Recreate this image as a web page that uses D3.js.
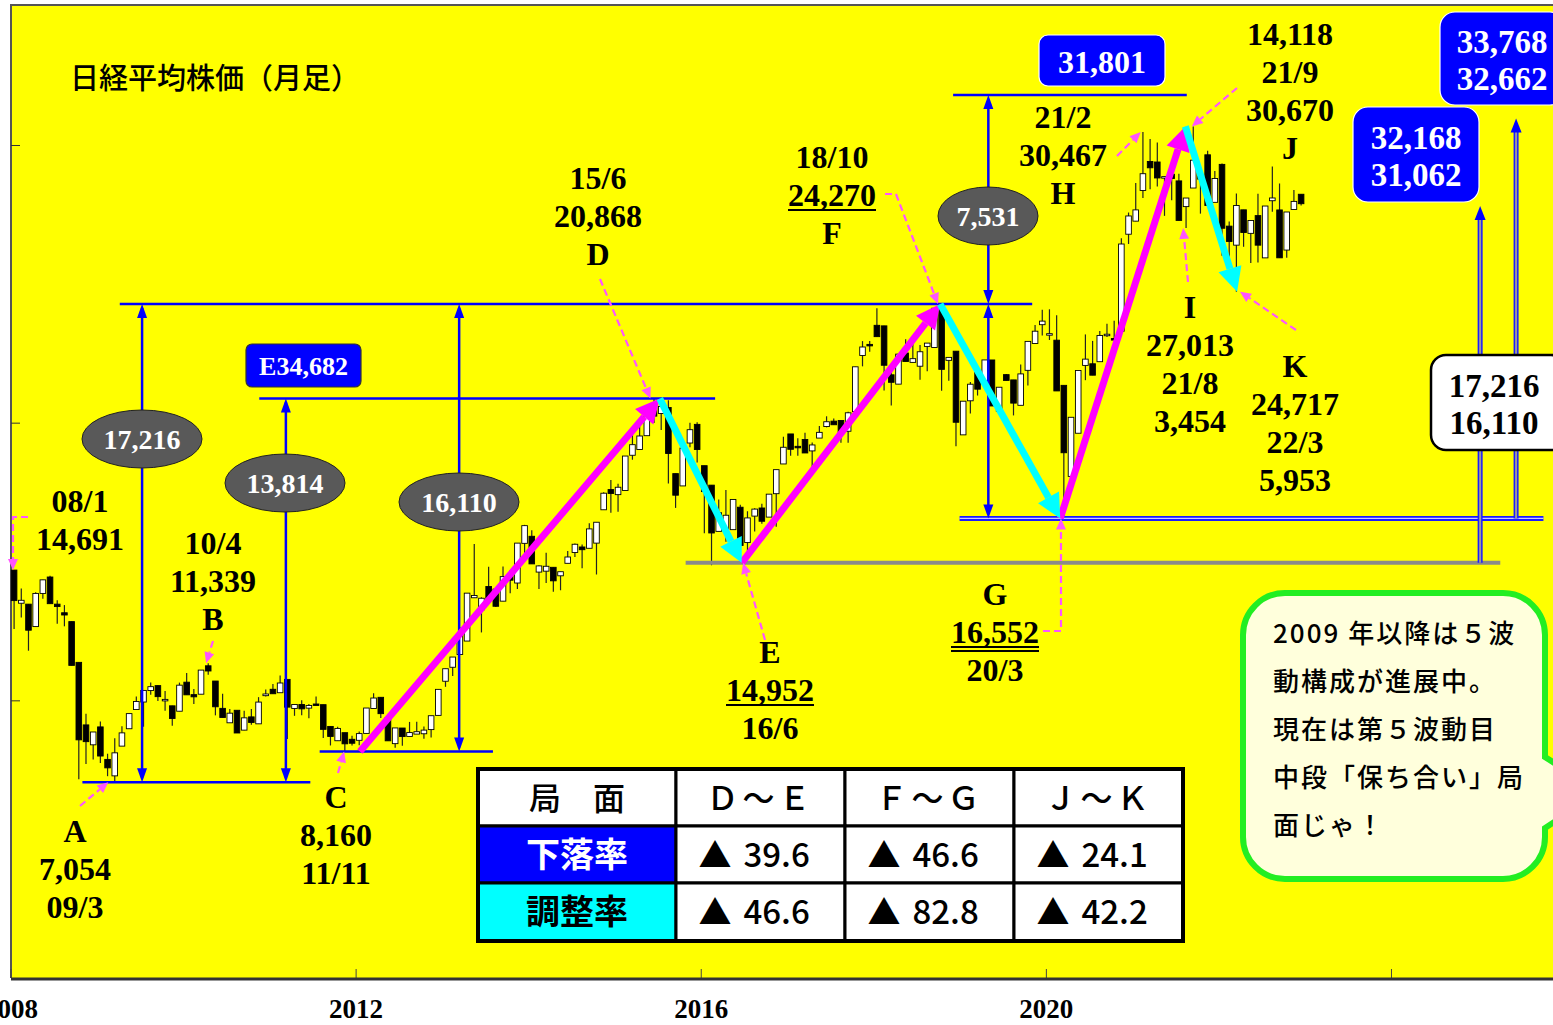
<!DOCTYPE html>
<html>
<head>
<meta charset="utf-8">
<script src="https://cdn.jsdelivr.net/npm/d3@7"></script>
<style>
body { margin: 0; background: #fff; }
svg { display: block; }
</style>
</head>
<body>
<svg id="chart" width="1553" height="1025"></svg>
<script>
// monthly candles, Jan 2008 .. Dec 2022 (closing-price basis)
const candleOpen = [
    14691, 13497, 13464, 12656, 13850, 14441, 13464, 13154, 12835, 11368, 9115, 8398,
    9043, 7873, 7280, 8351, 8977, 9668, 9939, 10352, 10530, 10009, 9802, 9608,
    10654, 10205, 10221, 11244, 10695, 9711, 9191, 9642, 8927, 9404, 9154, 10168,
    10398, 10274, 10754, 9708, 9850, 9719, 9868, 9844, 9060, 8545, 8835, 8597,
    8560, 8809, 9707, 10109, 9380, 8440, 9003, 8700, 8784, 8796, 8946, 9458,
    10688, 11191, 11652, 12135, 13694, 13261, 14099, 14005, 13572, 14484, 14225, 15654,
    15908, 14619, 14652, 14791, 14485, 14935, 15326, 15523, 15476, 15662, 16863, 17590,
    17408, 17558, 18826, 19034, 19531, 20569, 20329, 20548, 18165, 17722, 19267, 19939,
    18451, 17750, 16085, 16164, 16147, 16955, 15682, 16635, 16927, 16599, 17442, 18513,
    19594, 19148, 19393, 18983, 19445, 19860, 20055, 20080, 19691, 20400, 22420, 22819,
    23506, 23486, 21724, 21388, 22508, 22171, 22033, 22746, 22707, 24245, 22244, 22574,
    19561, 20788, 21822, 21509, 22258, 20410, 21730, 21540, 20625, 21885, 22850, 23529,
    23204, 22971, 21344, 18065, 19619, 22062, 22121, 22196, 23138, 23029, 23295, 26787,
    27258, 28362, 29408, 29388, 28812, 28946, 28707, 27781, 28451, 28771, 29647, 27935,
    29302, 27078, 26393, 27665, 26818, 27457, 25935, 27993, 27661, 26216, 27678, 28226
];
const candleHigh = [
    14691, 14031, 13464, 13895, 14339, 14489, 13604, 13431, 12835, 11368, 9521, 8860,
    9239, 8077, 8636, 9070, 9522, 10135, 10357, 10640, 10544, 10336, 9802, 10638,
    10982, 10404, 11089, 11339, 10695, 10238, 9685, 9642, 9626, 9691, 10115, 10394,
    10592, 10891, 10754, 9849, 10004, 9868, 10138, 9844, 9060, 9050, 8835, 8722,
    8882, 9723, 10255, 10109, 9380, 9006, 9003, 9223, 9232, 9055, 9446, 10395,
    11138, 11559, 12635, 13860, 15627, 13711, 14808, 14050, 14817, 14693, 15662, 16320,
    16121, 14865, 15312, 14791, 14632, 15376, 15646, 15613, 16374, 16414, 17490, 17935,
    17796, 18798, 19754, 20133, 20563, 20868, 20841, 20808, 18165, 19083, 19993, 20012,
    18451, 17750, 17233, 17572, 17235, 17048, 16810, 16919, 17081, 17425, 18308, 19494,
    19594, 19437, 19633, 19290, 19883, 20230, 20150, 20080, 20397, 22012, 22937, 22939,
    24124, 23486, 21968, 22468, 23002, 22878, 22794, 22869, 24120, 24270, 22351, 22574,
    20773, 21464, 21822, 22259, 22258, 21276, 21756, 21540, 22098, 22927, 23520, 24066,
    24083, 23873, 21344, 20194, 21878, 23178, 22945, 23297, 23559, 23671, 26644, 27568,
    28633, 30467, 30216, 30089, 28860, 29441, 28964, 28090, 30670, 29215, 29794, 29066,
    29332, 27242, 28252, 27665, 27280, 28246, 27802, 29222, 28614, 27587, 28383, 28226
];
const candleLow = [
    12573, 12983, 11787, 12656, 13655, 13481, 12754, 12666, 11259, 7162, 7703, 7865,
    7745, 7268, 7054, 8351, 8977, 9668, 9050, 10204, 9977, 9628, 9081, 9608,
    10198, 9867, 10221, 10924, 9459, 9382, 9191, 8824, 8927, 9121, 9154, 10141,
    10237, 10274, 8605, 9442, 9460, 9351, 9833, 8639, 8374, 8545, 8160, 8377,
    8378, 8809, 9707, 9368, 8542, 8296, 8365, 8700, 8784, 8617, 8662, 9458,
    10487, 10880, 11652, 12135, 13694, 12445, 13668, 13365, 13572, 13853, 14008, 15300,
    14914, 14008, 14224, 13910, 13964, 14935, 15164, 14753, 15476, 14532, 16863, 16755,
    16795, 17558, 18665, 19034, 19531, 19990, 19737, 17806, 16930, 17722, 19117, 18565,
    16017, 14865, 16085, 15715, 16147, 14952, 15106, 16083, 16360, 16599, 16251, 18513,
    18813, 18805, 18909, 18335, 19445, 19831, 19925, 19280, 19275, 20400, 22028, 22558,
    23098, 21154, 20618, 21388, 22202, 22171, 21546, 21851, 22707, 21149, 21507, 19155,
    19561, 20333, 20977, 21505, 20601, 20410, 21522, 20261, 20625, 21341, 22850, 23135,
    22977, 21143, 16552, 17818, 19619, 21530, 21710, 22196, 23087, 22977, 23295, 26436,
    27258, 28091, 28405, 28508, 27448, 28010, 27284, 27013, 28451, 27528, 27822, 27935,
    26011, 25971, 24717, 26335, 25748, 25771, 25935, 27594, 25937, 25938, 27678, 27820
];
const candleClose = [
    13592, 13603, 12526, 13850, 14339, 13481, 13377, 13073, 11259, 8577, 8512, 8860,
    7994, 7568, 8109, 8828, 9522, 9958, 10357, 10492, 10133, 10034, 9345, 10546,
    10198, 10126, 11089, 11057, 9768, 9382, 9537, 8824, 9369, 9202, 9937, 10228,
    10237, 10624, 9755, 9849, 9693, 9816, 9833, 8955, 8700, 8988, 8434, 8455,
    8802, 9723, 10083, 9520, 8542, 9006, 8695, 8839, 8870, 8928, 9446, 10395,
    11138, 11559, 12397, 13860, 13774, 13677, 13668, 13388, 14455, 14327, 15662, 16291,
    14914, 14841, 14828, 14304, 14632, 15162, 15621, 15425, 16174, 16414, 17459, 17451,
    17674, 18798, 19207, 19520, 20563, 20236, 20585, 18890, 17388, 19083, 19747, 19034,
    17518, 16027, 16759, 16666, 17235, 15576, 16569, 16887, 16450, 17425, 18308, 19114,
    19041, 19119, 18909, 19197, 19651, 20033, 19925, 19646, 20356, 22012, 22725, 22765,
    23098, 22068, 21454, 22468, 22202, 22305, 22554, 22865, 24120, 21920, 22351, 20015,
    20773, 21385, 21206, 22259, 20601, 21276, 21522, 20704, 21756, 22927, 23294, 23657,
    23205, 21143, 18917, 20194, 21878, 22288, 21710, 23140, 23185, 22977, 26434, 27444,
    27663, 28966, 29179, 28813, 28860, 28792, 27284, 28090, 29453, 28893, 27822, 28792,
    27002, 26527, 27821, 26848, 27280, 26393, 27802, 28092, 25937, 27587, 27969, 27886
];

const yearTicks = [2008, 2012, 2016, 2020, 2024];
const yearLabels = ["2008", "2012", "2016", "2020", ""];
const valueTicks = [10000, 20000, 30000];

// wave turning points (month offset from Jan 2008, value)
const waveNames = ["C", "D", "E", "F", "G", "J", "K"];
const waveMonths = [48.6, 90.3, 101.7, 129.3, 146.0, 163.4, 170.6];
const waveValues = [8160, 20868, 14952, 24270, 16552, 30670, 24717];
const risingWaves = [["C", "D"], ["E", "F"], ["G", "J"]];
const fallingWaves = [["D", "E"], ["F", "G"], ["J", "K"]];

// level lines: value, month from, month to
const levelValues = [7054, 8160, 20868, 24270, 31801, 14952, 16552];
const levelFrom = [10, 43, 34.6, 15.2, 131.1, 93.9, 132];
const levelTo = [41.7, 67.1, 98, 142.1, 163.6, 207.2, 213.2];
const levelKinds = ["blue", "blue", "blue", "blue", "blue", "gray", "double"];

// measured spans: month, from value, to value
const spanMonths = [18.3, 38.3, 62.4, 136, 136];
const spanFrom = [7054, 7054, 8160, 24270, 16552];
const spanTo = [24270, 20868, 24270, 31801, 24270];

// target arrows on the right
const targetMonths = [204.4, 209.4];
const targetFrom = [14952, 16552];
const targetTo = [27800, 30950];

// dashed pointers: label side (px) -> month/value
const pointerMonths = [0.35, 13.6, 27.2, 46.4, 89, 101.9, 129, 146.1, 157.2, 163.1, 164.3, 171];
const pointerValues = [14691, 7054, 11339, 8160, 20868, 14952, 24270, 16552, 30467, 27013, 30670, 24717];
const pointerTails = [
    [[28, 517], [13, 517]], [[80, 806]], [[213, 641]], [[338, 773]], [[600, 279]], [[765, 640]],
    [[885, 194], [896, 194]], [[1043, 631], [1061, 631]], [[1117, 156]], [[1188, 282]],
    [[1237, 88]], [[1296, 330]]
];

const labelBlocks = [
    { x: 80, y: 512, lines: ["08/1", "14,691"] },
    { x: 213, y: 554, lines: ["10/4", "11,339", "B"] },
    { x: 75, y: 842, lines: ["A", "7,054", "09/3"] },
    { x: 336, y: 808, lines: ["C", "8,160", "11/11"] },
    { x: 598, y: 189, lines: ["15/6", "20,868", "D"] },
    { x: 832, y: 168, lines: ["18/10", "24,270", "F"], under: [1, 1] },
    { x: 770, y: 663, lines: ["E", "14,952", "16/6"], under: [1, 1] },
    { x: 995, y: 605, lines: ["G", "16,552", "20/3"], under: [1, 2] },
    { x: 1063, y: 128, lines: ["21/2", "30,467", "H"] },
    { x: 1290, y: 45, lines: ["14,118", "21/9", "30,670", "J"] },
    { x: 1190, y: 318, lines: ["I", "27,013", "21/8", "3,454"] },
    { x: 1295, y: 377, lines: ["K", "24,717", "22/3", "5,953"] }
];

const spanBadges = [
    { x: 142, y: 439, rx: 60, text: "17,216" },
    { x: 285, y: 483, rx: 60, text: "13,814" },
    { x: 459, y: 502, rx: 60, text: "16,110" },
    { x: 988, y: 216, rx: 50, text: "7,531" }
];

const tableHeader = ["局　面", "Ｄ～Ｅ", "Ｆ～Ｇ", "Ｊ～Ｋ"];
const tableRowNames = ["下落率", "調整率"];
const dropRates = ["39.6", "46.6", "24.1"];
const adjustRates = ["46.6", "82.8", "42.2"];

const bubbleLines = ["2009 年以降は５波", "動構成が進展中。", "現在は第５波動目", "中段「保ち合い」局", "面じゃ！"];

const sizes = {
    width: 1553,
    height: 1025,
    left: 11,
    top: 5,
    bottom: 978,
    slot: 7.19,
    originX: 10.5
};

const serif = "'Liberation Serif', 'Times New Roman', serif";
const gothic = "'Noto Sans CJK JP', sans-serif";

const svg = d3.select("#chart");

const x = d3.scaleLinear()
    .domain([0, 216])
    .range([sizes.originX, sizes.originX + 216 * sizes.slot]);

const y = d3.scaleLinear()
    .domain([0, 30000])
    .range([sizes.bottom, 145]);

const waveIndex = name => waveNames.indexOf(name);

svg.append("rect")
    .attr("x", sizes.left)
    .attr("y", sizes.top)
    .attr("width", sizes.width - sizes.left)
    .attr("height", sizes.bottom - sizes.top)
    .attr("fill", "#ffff00");

svg.append("path")
    .attr("d", "M" + sizes.left + "," + sizes.bottom + "V" + sizes.top + "H" + sizes.width)
    .attr("fill", "none")
    .attr("stroke", "#555")
    .attr("stroke-width", 2);

// axes
const xAxis = d3.axisBottom(x)
    .tickValues(yearTicks.map(yr => (yr - 2008) * 12))
    .tickSize(-9)
    .tickFormat((d, i) => yearLabels[i]);

const gx = svg.append("g")
    .attr("transform", "translate(0," + sizes.bottom + ")")
    .call(xAxis);
gx.select(".domain").remove();
gx.selectAll("line").attr("stroke", "#444");
gx.selectAll("text")
    .attr("y", 40)
    .attr("dy", null)
    .attr("fill", "#000")
    .attr("font-family", serif)
    .attr("font-weight", "bold")
    .attr("font-size", 27);

const yAxis = d3.axisLeft(y)
    .tickValues(valueTicks)
    .tickSize(-9)
    .tickFormat("");

const gy = svg.append("g")
    .attr("transform", "translate(" + sizes.left + ",0)")
    .call(yAxis);
gy.select(".domain").remove();
gy.selectAll("line").attr("stroke", "#333");

svg.append("line")
    .attr("x1", sizes.left)
    .attr("x2", sizes.width)
    .attr("y1", sizes.bottom + 1)
    .attr("y2", sizes.bottom + 1)
    .attr("stroke", "#333")
    .attr("stroke-width", 3);

svg.append("text")
    .attr("x", 70)
    .attr("y", 89)
    .attr("font-family", gothic)
    .attr("font-size", 29)
    .attr("font-weight", 500)
    .attr("fill", "#000")
    .text("日経平均株価（月足）");

// candles
const candles = candleClose.map((c, i) => ({
    i: i, o: candleOpen[i], h: candleHigh[i], l: candleLow[i], c: c
}));

const candleG = svg.append("g");

candleG.selectAll("line")
    .data(candles)
    .join("line")
    .attr("x1", d => x(d.i + 0.5))
    .attr("x2", d => x(d.i + 0.5))
    .attr("y1", d => y(d.h))
    .attr("y2", d => y(d.l))
    .attr("stroke", "#222")
    .attr("stroke-width", 1.2);

candleG.selectAll("rect")
    .data(candles)
    .join("rect")
    .attr("x", d => x(d.i + 0.5) - 2.8)
    .attr("width", 5.6)
    .attr("y", d => y(Math.max(d.o, d.c)))
    .attr("height", d => Math.max(1.5, Math.abs(y(d.o) - y(d.c))))
    .attr("fill", d => d.c >= d.o ? "#fff" : "#000")
    .attr("stroke", "#000")
    .attr("stroke-width", 0.9);

function arrowHead(g, x1, y1, x2, y2, color, len, wid) {
    const l = Math.hypot(x2 - x1, y2 - y1);
    const ux = (x2 - x1) / l, uy = (y2 - y1) / l;
    const bx = x2 - ux * len, by = y2 - uy * len;
    g.append("path")
        .attr("d", "M" + x2 + "," + y2 +
            "L" + (bx - uy * wid / 2) + "," + (by + ux * wid / 2) +
            "L" + (bx + uy * wid / 2) + "," + (by - ux * wid / 2) + "Z")
        .attr("fill", color);
    return [bx, by];
}

// level lines
const levelG = svg.append("g");
levelValues.forEach((v, i) => {
    const kind = levelKinds[i];
    const ln = levelG.append("line")
        .attr("x1", x(levelFrom[i]))
        .attr("x2", x(levelTo[i]))
        .attr("y1", y(v))
        .attr("y2", y(v));
    if (kind === "blue") {
        ln.attr("stroke", "#0000ff").attr("stroke-width", 2.5);
    } else if (kind === "gray") {
        ln.attr("stroke", "#8a8a8a").attr("stroke-width", 4);
    } else {
        ln.attr("stroke", "#1a1aff").attr("stroke-width", 5);
        levelG.append("line")
            .attr("x1", x(levelFrom[i]))
            .attr("x2", x(levelTo[i]))
            .attr("y1", y(v))
            .attr("y2", y(v))
            .attr("stroke", "#c8c8ff")
            .attr("stroke-width", 1.2);
    }
});

// span arrows
const spanG = svg.append("g");
spanMonths.forEach((m, i) => {
    const sx = x(m), y1 = y(spanFrom[i]), y2 = y(spanTo[i]);
    spanG.append("line")
        .attr("x1", sx).attr("x2", sx)
        .attr("y1", y1 - 4).attr("y2", y2 + 4)
        .attr("stroke", "#0000ff")
        .attr("stroke-width", 2.5);
    arrowHead(spanG, sx, y2 + 20, sx, y2, "#0000ff", 14, 10);
    arrowHead(spanG, sx, y1 - 20, sx, y1, "#0000ff", 14, 10);
});

// target arrows on the right
targetMonths.forEach((m, i) => {
    const tx = x(m), y1 = y(targetFrom[i]), y2 = y(targetTo[i]);
    spanG.append("line")
        .attr("x1", tx).attr("x2", tx)
        .attr("y1", y1).attr("y2", y2 + 10)
        .attr("stroke", "#1a1aff")
        .attr("stroke-width", 5);
    spanG.append("line")
        .attr("x1", tx).attr("x2", tx)
        .attr("y1", y1).attr("y2", y2 + 10)
        .attr("stroke", "#9a9a9a")
        .attr("stroke-width", 2);
    arrowHead(spanG, tx, y2 + 20, tx, y2, "#0000ff", 14, 11);
});

// wave arrows
const waveG = svg.append("g");
function waveArrow(pair, color) {
    const a = waveIndex(pair[0]), b = waveIndex(pair[1]);
    const x1 = x(waveMonths[a]), y1 = y(waveValues[a]);
    const x2 = x(waveMonths[b]), y2 = y(waveValues[b]);
    const base = arrowHead(waveG, x1, y1, x2, y2, color, 24, 24);
    waveG.append("line")
        .attr("x1", x1).attr("y1", y1)
        .attr("x2", base[0]).attr("y2", base[1])
        .attr("stroke", color)
        .attr("stroke-width", 7);
}
risingWaves.forEach(p => waveArrow(p, "#ff00ff"));
fallingWaves.forEach(p => waveArrow(p, "#00ffff"));

// dashed pointers
const pointerG = svg.append("g");
pointerMonths.forEach((m, i) => {
    const tip = [x(m), y(pointerValues[i])];
    const pts = pointerTails[i].concat([tip]);
    const prev = pts[pts.length - 2];
    const base = arrowHead(pointerG, prev[0], prev[1], tip[0], tip[1], "#ff55ff", 11, 10);
    const body = pts.slice(0, -1).concat([base]);
    pointerG.append("path")
        .attr("d", d3.line()(body))
        .attr("fill", "none")
        .attr("stroke", "#ff55ff")
        .attr("stroke-width", 2.2)
        .attr("stroke-dasharray", "7,4");
});

// value labels
const labelG = svg.append("g")
    .attr("font-family", serif)
    .attr("font-weight", "bold")
    .attr("font-size", 32)
    .attr("text-anchor", "middle")
    .attr("fill", "#000");

labelBlocks.forEach(b => {
    b.lines.forEach((t, j) => {
        const ty = b.y + j * 38;
        const txt = labelG.append("text")
            .attr("x", b.x)
            .attr("y", ty)
            .text(t);
        if (b.under && b.under[0] === j) {
            const w = txt.node().getComputedTextLength();
            for (let k = 0; k < b.under[1]; k++) {
                labelG.append("line")
                    .attr("x1", b.x - w / 2).attr("x2", b.x + w / 2)
                    .attr("y1", ty + 4 + k * 4).attr("y2", ty + 4 + k * 4)
                    .attr("stroke", "#000")
                    .attr("stroke-width", 2);
            }
        }
    });
});

// grey span badges
const badgeG = svg.append("g");
spanBadges.forEach(b => {
    badgeG.append("ellipse")
        .attr("cx", b.x).attr("cy", b.y)
        .attr("rx", b.rx).attr("ry", 29)
        .attr("fill", "#595959")
        .attr("stroke", "#222")
        .attr("stroke-width", 1);
    badgeG.append("text")
        .attr("x", b.x).attr("y", b.y + 10)
        .attr("text-anchor", "middle")
        .attr("font-family", serif)
        .attr("font-weight", "bold")
        .attr("font-size", 28)
        .attr("fill", "#fff")
        .text(b.text);
});

// boxes
function box(x0, y0, w, h, r, fill, stroke, lines, cx, baseline, step, size, color) {
    const g = svg.append("g");
    g.append("rect")
        .attr("x", x0).attr("y", y0)
        .attr("width", w).attr("height", h)
        .attr("rx", r)
        .attr("fill", fill)
        .attr("stroke", stroke)
        .attr("stroke-width", fill === "#fff" ? 2.5 : 1.2);
    lines.forEach((t, j) => {
        g.append("text")
            .attr("x", cx).attr("y", baseline + j * step)
            .attr("text-anchor", "middle")
            .attr("font-family", serif)
            .attr("font-weight", "bold")
            .attr("font-size", size)
            .attr("fill", color)
            .text(t);
    });
}
box(246, 344, 115, 43, 6, "#0000ff", "#333", ["E34,682"], 303.5, 375, 0, 26, "#fff");
box(1039, 35, 126, 51, 9, "#0000ff", "#fff", ["31,801"], 1102, 73, 0, 32, "#fff");
box(1440, 12, 125, 93, 15, "#0000ff", "#fff", ["33,768", "32,662"], 1502, 53, 37, 33, "#fff");
box(1353, 107, 126, 95, 15, "#0000ff", "#fff", ["32,168", "31,062"], 1416, 149, 37, 33, "#fff");
box(1431, 355, 135, 95, 15, "#fff", "#000", ["17,216", "16,110"], 1494, 397, 37, 33, "#000");

// table
const colX = [478, 676, 845, 1014, 1183];
const rowY = [769, 826, 883, 941];
const tableG = svg.append("g").attr("font-family", gothic);

[0, 1, 2].forEach(r => {
    [0, 1, 2, 3].forEach(c => {
        let fill = "#fff";
        if (c === 0 && r === 1) fill = "#0000ff";
        if (c === 0 && r === 2) fill = "#00ffff";
        tableG.append("rect")
            .attr("x", colX[c]).attr("y", rowY[r])
            .attr("width", colX[c + 1] - colX[c])
            .attr("height", rowY[r + 1] - rowY[r])
            .attr("fill", fill)
            .attr("stroke", "#000")
            .attr("stroke-width", 3);
        const cx = (colX[c] + colX[c + 1]) / 2;
        const cy = (rowY[r] + rowY[r + 1]) / 2 + 12;
        if (r > 0 && c > 0) {
            const t = tableG.append("text")
                .attr("x", cx - 62)
                .attr("y", cy)
                .attr("font-size", 33)
                .attr("font-weight", 500)
                .attr("fill", "#000");
            t.append("tspan").text("▲");
            t.append("tspan").attr("dx", 12).text((r === 1 ? dropRates : adjustRates)[c - 1]);
            return;
        }
        let txt, color = "#000", size = 32, weight = 500, spacing = 0;
        if (r === 0) {
            txt = tableHeader[c];
            spacing = c > 0 ? 4 : 0;
        } else {
            txt = tableRowNames[r - 1];
            color = r === 1 ? "#fff" : "#000";
            size = 34;
            weight = 700;
        }
        tableG.append("text")
            .attr("x", cx)
            .attr("y", cy)
            .attr("text-anchor", "middle")
            .attr("font-size", size)
            .attr("font-weight", weight)
            .attr("letter-spacing", spacing)
            .attr("fill", color)
            .text(txt);
    });
});
tableG.append("rect")
    .attr("x", colX[0]).attr("y", rowY[0])
    .attr("width", colX[4] - colX[0]).attr("height", rowY[3] - rowY[0])
    .attr("fill", "none")
    .attr("stroke", "#000")
    .attr("stroke-width", 4);

// speech bubble
const bb = { x0: 1243, y0: 593, x1: 1545, y1: 879, r: 42 };
const bubblePath = "M" + (bb.x0 + bb.r) + "," + bb.y0 +
    "H" + (bb.x1 - bb.r) +
    "A" + bb.r + "," + bb.r + " 0 0 1 " + bb.x1 + "," + (bb.y0 + bb.r) +
    "V757L1600,792L" + bb.x1 + ",828" +
    "V" + (bb.y1 - bb.r) +
    "A" + bb.r + "," + bb.r + " 0 0 1 " + (bb.x1 - bb.r) + "," + bb.y1 +
    "H" + (bb.x0 + bb.r) +
    "A" + bb.r + "," + bb.r + " 0 0 1 " + bb.x0 + "," + (bb.y1 - bb.r) +
    "V" + (bb.y0 + bb.r) +
    "A" + bb.r + "," + bb.r + " 0 0 1 " + (bb.x0 + bb.r) + "," + bb.y0 + "Z";

svg.append("path")
    .attr("d", bubblePath)
    .attr("fill", "#ffffdc")
    .attr("stroke", "#22ee22")
    .attr("stroke-width", 6);

svg.append("g")
    .selectAll("text")
    .data(bubbleLines)
    .join("text")
    .attr("x", 1273)
    .attr("y", (d, i) => 643 + i * 48)
    .attr("font-family", gothic)
    .attr("font-size", 26)
    .attr("font-weight", 500)
    .attr("letter-spacing", 2)
    .attr("fill", "#000")
    .text(d => d);
</script>
</body>
</html>
